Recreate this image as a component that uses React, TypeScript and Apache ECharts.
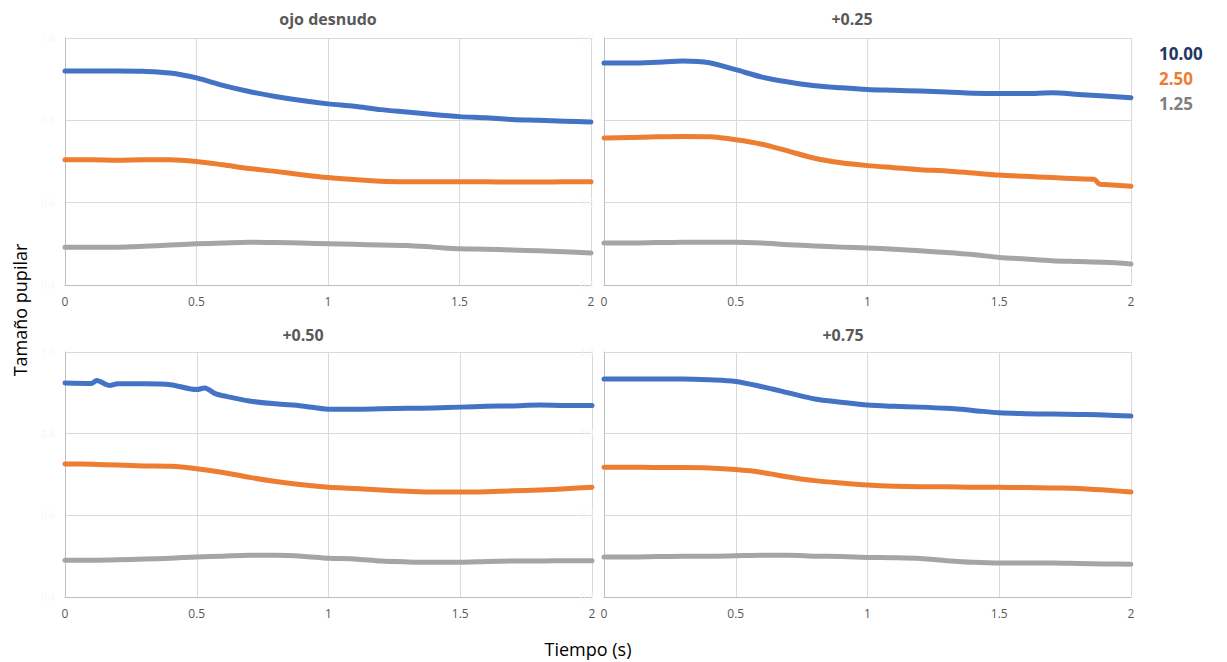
import React, { useEffect, useRef } from "react";
import * as echarts from "echarts";

const T = [0, 0.1, 0.2, 0.3, 0.4, 0.5, 0.6, 0.7, 0.8, 0.9, 1.0, 1.1, 1.2, 1.3, 1.4, 1.5, 1.6, 1.7, 1.8, 1.9, 2.0];

const panelTitles = ["ojo desnudo", "+0.25", "+0.50", "+0.75"];
const seriesNames = ["10.00", "2.50", "1.25"];
const seriesColors = ["#4472C4", "#ED7D31", "#A5A5A5"];
const legendColors = ["#1F3864", "#ED7D31", "#7F7F7F"];
const xTicks = [0, 0.5, 1, 1.5, 2];

// ojo desnudo
const p1Blue = [0.920, 0.920, 0.920, 0.919, 0.915, 0.903, 0.885, 0.870, 0.858, 0.848, 0.840, 0.834, 0.826, 0.820, 0.814, 0.809, 0.806, 0.802, 0.800, 0.798, 0.796];
const p1Orange = [0.704, 0.704, 0.703, 0.704, 0.704, 0.700, 0.692, 0.683, 0.676, 0.668, 0.661, 0.656, 0.652, 0.651, 0.651, 0.651, 0.651, 0.650, 0.650, 0.651, 0.651];
const p1Gray = [0.492, 0.492, 0.492, 0.494, 0.497, 0.500, 0.502, 0.504, 0.503, 0.502, 0.500, 0.499, 0.497, 0.496, 0.492, 0.488, 0.487, 0.485, 0.483, 0.481, 0.478];

// +0.25
const p2Blue = [0.939, 0.939, 0.941, 0.944, 0.940, 0.923, 0.905, 0.893, 0.884, 0.879, 0.875, 0.873, 0.871, 0.869, 0.866, 0.865, 0.865, 0.867, 0.863, 0.859, 0.855];
const p2OrangeT = [0, 0.1, 0.2, 0.3, 0.4, 0.5, 0.6, 0.7, 0.8, 0.9, 1.0, 1.1, 1.2, 1.3, 1.4, 1.5, 1.6, 1.7, 1.8, 1.86, 1.88, 1.9, 2.0];
const p2Orange = [0.757, 0.758, 0.760, 0.761, 0.760, 0.753, 0.742, 0.725, 0.708, 0.697, 0.690, 0.685, 0.680, 0.677, 0.672, 0.667, 0.664, 0.661, 0.658, 0.657, 0.645, 0.644, 0.640];
const p2Gray = [0.502, 0.502, 0.503, 0.504, 0.504, 0.504, 0.502, 0.498, 0.495, 0.492, 0.490, 0.487, 0.483, 0.479, 0.474, 0.467, 0.463, 0.459, 0.457, 0.455, 0.451];

// +0.50
const p3BlueT = [0, 0.1, 0.12, 0.17, 0.2, 0.3, 0.4, 0.5, 0.53, 0.57, 0.6, 0.7, 0.8, 0.9, 1.0, 1.1, 1.2, 1.3, 1.4, 1.5, 1.6, 1.7, 1.8, 1.9, 2.0];
const p3Blue = [0.924, 0.923, 0.930, 0.918, 0.922, 0.922, 0.920, 0.908, 0.912, 0.898, 0.893, 0.880, 0.873, 0.868, 0.860, 0.860, 0.861, 0.862, 0.863, 0.865, 0.867, 0.868, 0.870, 0.869, 0.869];
const p3Orange = [0.726, 0.725, 0.723, 0.721, 0.720, 0.714, 0.705, 0.693, 0.683, 0.675, 0.669, 0.666, 0.662, 0.659, 0.657, 0.657, 0.658, 0.660, 0.662, 0.665, 0.669];
const p3Gray = [0.490, 0.490, 0.491, 0.493, 0.495, 0.498, 0.500, 0.502, 0.502, 0.500, 0.495, 0.493, 0.488, 0.486, 0.485, 0.485, 0.487, 0.488, 0.488, 0.489, 0.489];

// +0.75
const p4Blue = [0.934, 0.934, 0.934, 0.934, 0.932, 0.928, 0.915, 0.900, 0.885, 0.877, 0.870, 0.867, 0.865, 0.862, 0.857, 0.851, 0.849, 0.848, 0.847, 0.846, 0.843];
const p4Orange = [0.718, 0.718, 0.717, 0.717, 0.716, 0.712, 0.705, 0.694, 0.685, 0.679, 0.674, 0.671, 0.670, 0.670, 0.669, 0.669, 0.668, 0.667, 0.666, 0.662, 0.657];
const p4Gray = [0.498, 0.498, 0.499, 0.500, 0.500, 0.501, 0.502, 0.502, 0.500, 0.499, 0.497, 0.496, 0.494, 0.489, 0.485, 0.483, 0.483, 0.483, 0.482, 0.481, 0.480];

const panels: { t: number[]; v: number[] }[][] = [
  [{ t: T, v: p1Blue }, { t: T, v: p1Orange }, { t: T, v: p1Gray }],
  [{ t: T, v: p2Blue }, { t: p2OrangeT, v: p2Orange }, { t: T, v: p2Gray }],
  [{ t: p3BlueT, v: p3Blue }, { t: T, v: p3Orange }, { t: T, v: p3Gray }],
  [{ t: T, v: p4Blue }, { t: T, v: p4Orange }, { t: T, v: p4Gray }],
];

const FONT = "'Open Sans', 'Noto Sans', sans-serif";

const gridBoxes = [
  { left: 65, top: 38, width: 526, height: 247 },
  { left: 604, top: 38, width: 527, height: 247 },
  { left: 65, top: 352, width: 527, height: 245 },
  { left: 604, top: 352, width: 527, height: 245 },
];

export default function App() {
  const ref = useRef<HTMLDivElement>(null);
  useEffect(() => {
    if (!ref.current) return;
    const chart = echarts.init(ref.current, null, { renderer: "svg" });
    const grid = gridBoxes.map((g) => ({ ...g, containLabel: false }));
    const xAxis = gridBoxes.map((_, i) => ({
      type: "value",
      gridIndex: i,
      min: 0,
      max: 2,
      interval: 0.5,
      axisLine: { show: true, lineStyle: { color: "#BFBFBF", width: 1 } },
      axisTick: { show: false },
      splitLine: { show: true, lineStyle: { color: "#D9D9D9", width: 1 } },
      axisLabel: {
        color: "#595959",
        fontSize: 12,
        fontFamily: FONT,
        margin: 10,
        formatter: (v: number) => (xTicks.includes(v) ? String(v) : ""),
      },
    }));
    const yAxis = gridBoxes.map((_, i) => ({
      type: "value",
      gridIndex: i,
      min: 0.4,
      max: 1.0,
      interval: 0.2,
      axisLine: { show: true, lineStyle: { color: "#BFBFBF", width: 1 } },
      axisTick: { show: false },
      splitLine: { show: true, lineStyle: { color: "#D9D9D9", width: 1 } },
      axisLabel: {
        color: "#F7F7F7",
        fontSize: 10,
        fontFamily: FONT,
        margin: 10,
        formatter: (v: number) => v.toFixed(1),
      },
    }));
    const series: any[] = [];
    panels.forEach((p, i) => {
      p.forEach((s, j) => {
        series.push({
          type: "line",
          name: seriesNames[j],
          xAxisIndex: i,
          yAxisIndex: i,
          data: s.t.map((t, k) => [t, s.v[k]]),
          showSymbol: false,
          symbol: "none",
          smooth: 0.3,
          lineStyle: { color: seriesColors[j], width: 5, cap: "round", join: "round" },
          itemStyle: { color: seriesColors[j] },
          z: 5 - j,
        });
      });
    });
    const titleCenters = [
      { x: 328, y: 19 },
      { x: 852, y: 19 },
      { x: 303, y: 335 },
      { x: 843, y: 335 },
    ];
    const graphic: any[] = [
      ...panelTitles.map((txt, i) => ({
        type: "text",
        x: titleCenters[i].x,
        y: titleCenters[i].y,
        style: {
          text: txt,
          fill: "#595959",
          font: `bold 16px ${FONT}`,
          textAlign: "center",
          textVerticalAlign: "middle",
        },
      })),
      ...seriesNames.map((n, j) => ({
        type: "text",
        x: 1159,
        y: 53 + j * 25,
        style: {
          text: n,
          fill: legendColors[j],
          font: `bold 17px ${FONT}`,
          textAlign: "left",
          textVerticalAlign: "middle",
        },
      })),
      {
        type: "text",
        x: 588,
        y: 649,
        style: {
          text: "Tiempo (s)",
          fill: "#000000",
          font: `18px ${FONT}`,
          textAlign: "center",
          textVerticalAlign: "middle",
        },
      },
      {
        type: "text",
        x: 20,
        y: 310,
        rotation: Math.PI / 2,
        style: {
          text: "Tamaño pupilar",
          fill: "#000000",
          font: `18px ${FONT}`,
          textAlign: "center",
          textVerticalAlign: "middle",
        },
      },
    ];
    chart.setOption({
      animation: false,
      backgroundColor: "#ffffff",
      grid,
      xAxis,
      yAxis,
      series,
      graphic,
      tooltip: { show: false },
    });
    return () => chart.dispose();
  }, []);
  return (
    <div
      ref={ref}
      style={{ position: "absolute", left: 0, top: 0, width: 1227, height: 662 }}
    />
  );
}
